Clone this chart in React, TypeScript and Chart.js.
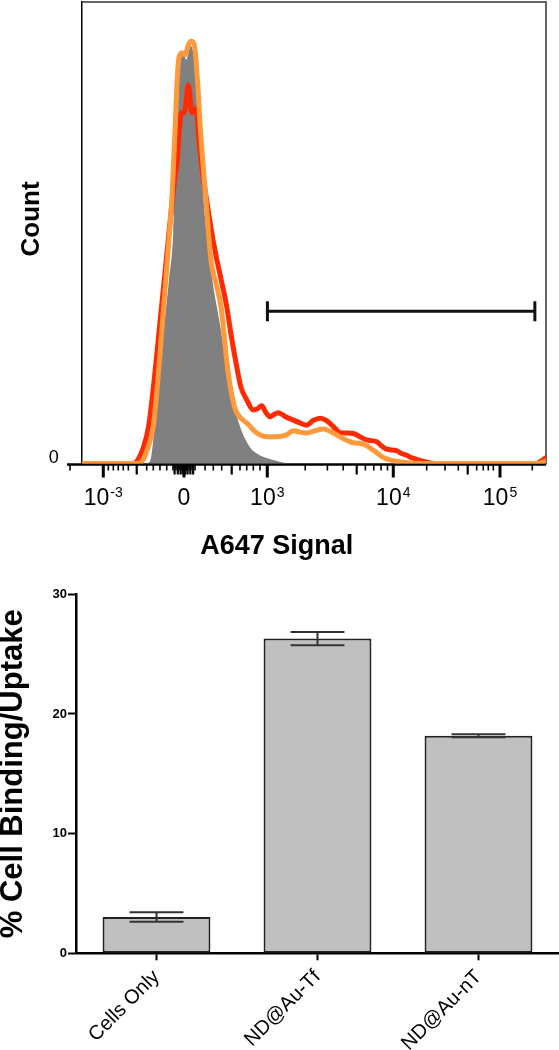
import React, { useEffect, useRef } from 'react';
import { Chart, registerables } from 'chart.js';

Chart.register(...registerables);

const FONT = '"Liberation Sans", Arial, Helvetica, sans-serif';

// ---------- Flow histogram (display channel units 0..1000) ----------
const grayChannels = [0, 136, 147, 154, 162, 175, 188, 197, 203, 208, 214, 219, 225, 235, 242, 251, 258, 269, 281, 298, 312, 326, 341, 362, 380, 398, 427, 449, 1000];
const grayCounts = [0, 0, 0.5, 5, 14, 27, 40, 50, 70, 82, 88, 89, 87.5, 90.5, 88, 79, 64, 50, 40, 30, 21, 13.8, 8, 3.6, 2, 1.2, 0.4, 0, 0];

const redChannels = [0, 110, 121, 133, 144, 156, 170, 184, 194, 201, 206, 210, 214.9, 221.4, 229.6, 237.6, 246.2, 252.6, 259, 267.7, 278.5, 289.3, 300, 312.3, 321.6, 333.8, 343.1, 355.4, 369.6, 377.6, 387.7, 397, 405.6, 414.2, 423.4, 437.9, 455.7, 470.2, 484.6, 498.2, 513.3, 524, 534.8, 545.6, 556.3, 569.3, 585, 599.4, 613.9, 635.4, 646.1, 656.9, 678.4, 687.7, 700, 709.2, 721.5, 743.1, 760.9, 978.4, 989.2, 1000];
const redCounts = [0, 0, 0.8, 3.5, 8, 18, 32, 46, 56, 62, 66, 72, 76, 76, 82, 76, 77, 70, 64, 58, 51, 45, 40, 34, 28, 21, 16.5, 13.8, 11.6, 11.8, 12.5, 11, 10.1, 10.6, 11, 10.2, 9.4, 8.8, 8.3, 9.3, 9.8, 9.5, 8.7, 7.6, 6.7, 6.6, 6.5, 5.8, 5.1, 4.7, 3.8, 3.1, 2.8, 2.2, 1.8, 1.3, 0.9, 0.3, 0, 0, 0.5, 1.3];

const orangeChannels = [0, 121, 132, 143, 154, 164, 175, 186, 194.5, 201, 205, 209.6, 216, 222.5, 229, 235.4, 242, 249.4, 256, 267.7, 278.5, 289.3, 300, 315, 329, 341, 355.4, 377, 398.5, 418.5, 441.5, 455, 470, 484.6, 502.5, 520.4, 542, 563.4, 585, 606.5, 628, 649.6, 671, 700, 729, 983, 993.5, 1000];
const orangeCounts = [0, 0, 0.8, 3.5, 8, 18, 32, 46, 58, 72, 82, 88, 89, 88.5, 90.5, 91.5, 91, 83, 72, 57, 44, 39, 34, 20, 12.3, 10, 8.8, 6.6, 5.8, 5.8, 6.2, 7.1, 6.8, 6.6, 7.1, 7.5, 6.6, 5.4, 4.5, 4.2, 2.9, 1.3, 0.6, 0.2, 0, 0, 0.3, 0.6];

// axis ticks (display channel units)
const majorTickChannels = [46.5, 220.3, 399.7, 671.1, 900.9];
const majorTickBase = ['10', '0', '10', '10', '10'];
const majorTickExp = ['-3', '', '3', '4', '5'];
const mediumTickChannels = [118.5, 323.1, 592.3, 831.4];
const minorTickChannels = [-25.2, 57.3, 68.1, 78.8, 89.6, 100.4, 140, 154.2, 168.6, 183.1, 196.6, 203.1, 209.6, 215, 225.8, 231.1, 237.6, 244, 265.7, 283.4, 301.5, 340.9, 355.4, 369.6, 384, 481.4, 529.2, 563.2, 611, 629.1, 644.8, 658.6, 743, 782.5, 811.1, 850.7, 864.9, 875.7, 886.5, 970.5];
const axisStartChannel = -31.7;
const clusterTickChannels = [200, 207, 213, 218, 223, 228, 234, 240];

// gate
const gateRange = [400, 976];
const gateLevel = 33;

// ---------- Bar chart ----------
const categories = ['Cells Only', 'ND@Au-Tf', 'ND@Au-nT'];
const bindingMean = [3.03, 26.3, 18.18];
const bindingErr = [0.39, 0.55, 0.12];

const histDecor = {
  id: 'histDecor',
  beforeDatasetsDraw(chart: any) {
    const { ctx, chartArea: a, scales } = chart;
    const xs = scales.x;
    const ys = scales.y;
    const y0 = ys.getPixelForValue(0) + 1;
    ctx.save();
    ctx.strokeStyle = '#333';
    ctx.lineWidth = 1.5;
    ctx.beginPath();
    ctx.moveTo(a.left, a.top);
    ctx.lineTo(a.right, a.top);
    ctx.lineTo(a.right, y0);
    ctx.stroke();
    ctx.strokeStyle = '#000';
    ctx.lineWidth = 2.5;
    ctx.beginPath();
    ctx.moveTo(xs.getPixelForValue(axisStartChannel), y0);
    ctx.lineTo(a.right, y0);
    ctx.stroke();
    const tick = (v: number, len: number, w: number) => {
      const px = xs.getPixelForValue(v);
      ctx.lineWidth = w;
      ctx.beginPath();
      ctx.moveTo(px, y0);
      ctx.lineTo(px, y0 + len);
      ctx.stroke();
    };
    minorTickChannels.forEach((v) => tick(v, 6, 1.6));
    clusterTickChannels.forEach((v) => tick(v, 10, 2.2));
    mediumTickChannels.forEach((v) => tick(v, 10, 2.2));
    majorTickChannels.forEach((v) => tick(v, 13, 3));
    ctx.fillStyle = '#000';
    ctx.textBaseline = 'alphabetic';
    ctx.textAlign = 'left';
    majorTickChannels.forEach((v, i) => {
      const px = xs.getPixelForValue(v);
      ctx.font = `23px ${FONT}`;
      const wb = ctx.measureText(majorTickBase[i]).width;
      ctx.font = `14px ${FONT}`;
      const we = majorTickExp[i] ? ctx.measureText(majorTickExp[i]).width + 1 : 0;
      const start = px - (wb + we) / 2;
      ctx.font = `23px ${FONT}`;
      ctx.fillText(majorTickBase[i], start, y0 + 40);
      if (majorTickExp[i]) {
        ctx.font = `14px ${FONT}`;
        ctx.fillText(majorTickExp[i], start + wb + 1, y0 + 32);
      }
    });
    ctx.font = `18px ${FONT}`;
    ctx.textAlign = 'right';
    ctx.textBaseline = 'middle';
    ctx.fillText('0', a.left - 23, y0 - 6);
    ctx.font = `bold 27px ${FONT}`;
    ctx.textAlign = 'center';
    ctx.fillText('A647 Signal', a.left + a.width * 0.42, y0 + 82);
    ctx.save();
    ctx.translate(a.left - 50, a.top + a.height * 0.47);
    ctx.rotate(-Math.PI / 2);
    ctx.font = `bold 26px ${FONT}`;
    ctx.fillText('Count', 0, 0);
    ctx.restore();
    ctx.restore();
  },
};

const errorBars = {
  id: 'errorBars',
  afterDatasetsDraw(chart: any) {
    const { ctx, scales } = chart;
    const meta = chart.getDatasetMeta(0);
    ctx.save();
    ctx.strokeStyle = '#333';
    ctx.lineWidth = 2;
    meta.data.forEach((el: any, i: number) => {
      const hi = scales.y.getPixelForValue(bindingMean[i] + bindingErr[i]);
      const lo = scales.y.getPixelForValue(bindingMean[i] - bindingErr[i]);
      const half = el.width / 4;
      ctx.beginPath();
      ctx.moveTo(el.x, hi);
      ctx.lineTo(el.x, lo);
      ctx.moveTo(el.x - half, hi);
      ctx.lineTo(el.x + half, hi);
      ctx.moveTo(el.x - half, lo);
      ctx.lineTo(el.x + half, lo);
      ctx.stroke();
    });
    ctx.restore();
  },
};

function toPoints(xs: number[], ys: number[]) {
  return xs.map((x, i) => ({ x, y: ys[i] }));
}

function HistChart() {
  const ref = useRef<HTMLCanvasElement>(null);
  useEffect(() => {
    const chart = new Chart(ref.current as HTMLCanvasElement, {
      type: 'line',
      data: {
        datasets: [
          {
            data: [
              { x: gateRange[0], y: gateLevel },
              { x: gateRange[1], y: gateLevel },
            ],
            borderColor: '#111',
            borderWidth: 3,
            pointStyle: 'line',
            rotation: 90,
            pointRadius: 10,
            pointBorderWidth: 3,
            pointBorderColor: '#111',
            order: 0,
          } as any,
          {
            data: toPoints(orangeChannels, orangeCounts),
            borderColor: '#ff9a3c',
            borderWidth: 5,
            pointRadius: 0,
            cubicInterpolationMode: 'monotone',
            order: 1,
          },
          {
            data: toPoints(redChannels, redCounts),
            borderColor: '#ff2a00',
            borderWidth: 5,
            pointRadius: 0,
            cubicInterpolationMode: 'monotone',
            order: 2,
          },
          {
            data: toPoints(grayChannels, grayCounts),
            borderColor: '#808080',
            borderWidth: 0,
            backgroundColor: '#808080',
            fill: 'origin',
            pointRadius: 0,
            cubicInterpolationMode: 'monotone',
            order: 3,
          },
        ],
      },
      options: {
        animation: false,
        responsive: false,
        devicePixelRatio: 1,
        layout: { autoPadding: false, padding: { left: 0, top: 2, right: 13, bottom: 0 } },
        plugins: { legend: { display: false }, tooltip: { enabled: false } },
        scales: {
          x: {
            type: 'linear',
            min: 0,
            max: 1000,
            grid: { display: false },
            border: { display: false },
            ticks: { display: false },
            afterFit: (s: any) => {
              s.height = 106.5;
            },
          },
          y: {
            min: 0,
            max: 100,
            grid: { display: false },
            ticks: { display: false },
            border: { display: true, color: '#000', width: 1.5 },
            afterFit: (s: any) => {
              s.width = 81.7;
            },
          },
        },
      },
      plugins: [histDecor],
    } as any);
    return () => chart.destroy();
  }, []);
  return <canvas ref={ref} width={559} height={570} style={{ display: 'block' }} />;
}

function BarChart() {
  const ref = useRef<HTMLCanvasElement>(null);
  useEffect(() => {
    const chart = new Chart(ref.current as HTMLCanvasElement, {
      type: 'bar',
      data: {
        labels: categories,
        datasets: [
          {
            data: bindingMean,
            backgroundColor: '#c0c0c0',
            borderColor: '#222',
            borderWidth: 2,
            borderSkipped: false,
            categoryPercentage: 1,
            barPercentage: 0.67,
          },
        ],
      },
      options: {
        animation: false,
        responsive: false,
        devicePixelRatio: 1,
        layout: { padding: { left: 0, top: 24.3, right: 0, bottom: 0 } },
        plugins: { legend: { display: false }, tooltip: { enabled: false } },
        scales: {
          x: {
            grid: {
              offset: false,
              drawOnChartArea: false,
              drawTicks: true,
              tickLength: 7,
              tickColor: '#000',
              tickWidth: 2,
            },
            border: { display: true, color: '#000', width: 2.5 },
            ticks: {
              color: '#000',
              font: { family: FONT, size: 20 },
              minRotation: 45,
              maxRotation: 45,
              autoSkip: false,
              padding: 5,
            },
            afterFit: (s: any) => {
              s.height = 96.7;
            },
          },
          y: {
            min: 0,
            max: 30,
            ticks: {
              stepSize: 10,
              color: '#000',
              font: { family: FONT, size: 13, weight: 'bold' },
              padding: 1,
            },
            grid: {
              drawOnChartArea: false,
              drawTicks: true,
              tickLength: 8,
              tickColor: '#000',
              tickWidth: 2,
            },
            border: { display: true, color: '#000', width: 2.5 },
            title: {
              display: true,
              text: '% Cell Binding/Uptake',
              color: '#000',
              font: { family: FONT, size: 31, weight: 'bold', lineHeight: 1 },
              padding: { top: -2, bottom: 0 },
            },
            afterFit: (s: any) => {
              s.width = 76;
            },
          },
        },
      },
      plugins: [errorBars],
    } as any);
    return () => chart.destroy();
  }, []);
  return <canvas ref={ref} width={559} height={480} style={{ display: 'block' }} />;
}

export default function App() {
  return (
    <div style={{ position: 'absolute', left: 0, top: 0, width: 559, height: 1050, background: '#fff' }}>
      <HistChart />
      <BarChart />
    </div>
  );
}
